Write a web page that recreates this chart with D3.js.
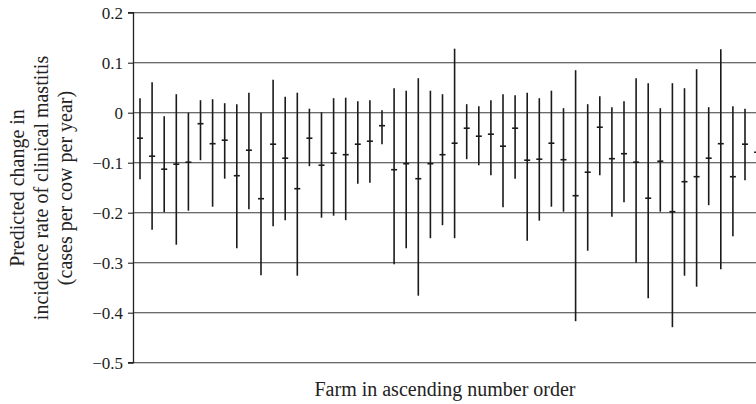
<!DOCTYPE html>
<html>
<head>
<meta charset="utf-8">
<script src="https://cdn.jsdelivr.net/npm/d3@7"></script>
<style>
  html, body { margin: 0; padding: 0; background: #fff; }
  svg { display: block; }
  text { font-family: "Liberation Serif", "Times New Roman", serif; fill: #222; }
</style>
</head>
<body>
<svg id="chart" width="756" height="404"></svg>
<script>
const farms = d3.range(1, 53);
const estimates = [-0.051, -0.087, -0.113, -0.103, -0.099, -0.022, -0.062, -0.055, -0.126, -0.075,
  -0.172, -0.063, -0.091, -0.152, -0.051, -0.105, -0.081, -0.084, -0.063, -0.057,
  -0.026, -0.114, -0.102, -0.132, -0.102, -0.084, -0.061, -0.031, -0.047, -0.043,
  -0.067, -0.031, -0.095, -0.093, -0.061, -0.094, -0.166, -0.119, -0.029, -0.092,
  -0.082, -0.099, -0.171, -0.097, -0.198, -0.138, -0.128, -0.091, -0.062, -0.128,
  -0.063, -0.079];
const upper = [0.029, 0.061, -0.007, 0.037, 0.0, 0.025, 0.027, 0.019, 0.017, 0.040,
  0.0, 0.066, 0.032, 0.040, 0.008, 0.001, 0.029, 0.030, 0.023, 0.025,
  0.005, 0.049, 0.044, 0.069, 0.044, 0.037, 0.128, 0.017, 0.013, 0.025,
  0.037, 0.035, 0.040, 0.029, 0.044, 0.009, 0.085, 0.017, 0.033, 0.011,
  0.023, 0.069, 0.059, 0.009, 0.059, 0.049, 0.087, 0.011, 0.127, 0.013,
  0.008, 0.0];
const lower = [-0.133, -0.234, -0.199, -0.264, -0.196, -0.095, -0.188, -0.132, -0.271, -0.193,
  -0.325, -0.227, -0.215, -0.326, -0.107, -0.210, -0.206, -0.215, -0.142, -0.140,
  -0.063, -0.303, -0.271, -0.366, -0.251, -0.225, -0.251, -0.093, -0.105, -0.125,
  -0.189, -0.132, -0.256, -0.216, -0.188, -0.198, -0.417, -0.276, -0.125, -0.208,
  -0.179, -0.300, -0.371, -0.198, -0.429, -0.326, -0.348, -0.185, -0.313, -0.247,
  -0.135, -0.160];
const yTicks = [0.2, 0.1, 0, -0.1, -0.2, -0.3, -0.4, -0.5];
const xLabel = "Farm in ascending number order";
const yLabelLines = ["Predicted change in", "incidence rate of clinical mastitis", "(cases per cow per year)"];

const svg = d3.select("#chart");
const axisX = 133.5;
const x = d3.scaleLinear().domain([1, 52]).range([140, 757.1]);
const y = d3.scaleLinear().domain([-0.5, 0.2]).range([362.7, 12.7]);
const serif = '"Liberation Serif", "Times New Roman", serif';

// gridlines
svg.append("g").selectAll("line").data(yTicks).join("line")
  .attr("x1", axisX).attr("x2", 756)
  .attr("y1", d => y(d)).attr("y2", d => y(d))
  .attr("stroke", "#3a3a3a").attr("stroke-width", 1.1);

// y axis
const yAxis = d3.axisLeft(y).tickValues(yTicks).tickSize(5.5).tickPadding(5)
  .tickFormat(d => d === 0 ? "0" : d3.format(".1f")(d));
const ga = svg.append("g").attr("transform", `translate(${axisX},0)`).call(yAxis);
ga.attr("font-family", null);
ga.select(".domain").attr("stroke", "#222").attr("stroke-width", 1.3).attr("d", `M-5.5,${y(0.2)}H0V${y(-0.5)}H-5.5`);
ga.selectAll(".tick line").attr("stroke", "#222").attr("stroke-width", 1.1);
ga.selectAll(".tick text").style("font-family", serif)
  .style("font-size", "17px").attr("fill", "#222");

// error bars
const data = farms.map((f, i) => ({ f, est: estimates[i], lo: lower[i], hi: upper[i] }));
const g = svg.append("g");
g.selectAll("line.bar").data(data).join("line").attr("class", "bar")
  .attr("x1", d => x(d.f)).attr("x2", d => x(d.f))
  .attr("y1", d => y(d.hi)).attr("y2", d => y(d.lo))
  .attr("stroke", "#1a1a1a").attr("stroke-width", 1.6);
g.selectAll("line.est").data(data).join("line").attr("class", "est")
  .attr("x1", d => x(d.f) - 3).attr("x2", d => x(d.f) + 3)
  .attr("y1", d => y(d.est)).attr("y2", d => y(d.est))
  .attr("stroke", "#1a1a1a").attr("stroke-width", 1.6);

// axis titles
svg.append("text").attr("x", 445).attr("y", 396).attr("text-anchor", "middle")
  .style("font-family", serif).style("font-size", "20px").text(xLabel);

const yt = svg.append("text").attr("transform", "translate(0,188) rotate(-90)")
  .attr("text-anchor", "middle").style("font-family", serif).style("font-size", "20px");
yLabelLines.forEach((t, i) => {
  yt.append("tspan").attr("x", 0).attr("y", 24 + i * 24).text(t);
});
</script>
</body>
</html>
